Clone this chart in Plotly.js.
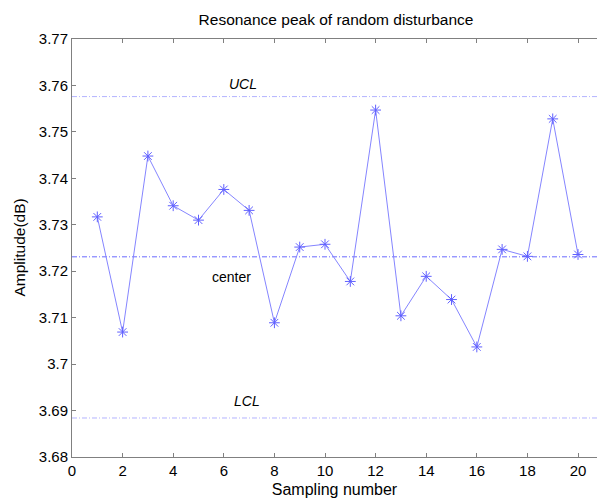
<!DOCTYPE html>
<html>
<head>
<meta charset="utf-8">
<script src="https://cdn.plot.ly/plotly-3.0.1.min.js"></script>
<style>html,body{margin:0;padding:0;background:#fff;}#chart{width:597px;height:499px;}</style>
</head>
<body>
<div id="chart"></div>
<script>
const samples = [1,2,3,4,5,6,7,8,9,10,11,12,13,14,15,16,17,18,19,20];
const amplitude = [3.7317,3.7069,3.7448,3.7341,3.7310,3.7376,3.7331,3.7089,3.7252,3.7258,
                   3.7178,3.7547,3.7104,3.7189,3.7139,3.7037,3.7247,3.7232,3.7528,3.7236];
const limitNames = ['UCL','center','LCL'];
const limitValues = [3.7576, 3.7231, 3.6884];
const limitLabelX = [6.75, 6.3, 6.9];
const limitLabelY = [3.7603, 3.7187, 3.6920];
const xRange = [0, 20.75];
const yRange = [3.68, 3.77];
const xTicks = [0,2,4,6,8,10,12,14,16,18,20];
const yTicks = [3.68,3.69,3.7,3.71,3.72,3.73,3.74,3.75,3.76,3.77];
const yTickText = ['3.68','3.69','3.7','3.71','3.72','3.73','3.74','3.75','3.76','3.77'];

const font = 'Liberation Sans, Arial, sans-serif';
const limitColors = ['#b4b4ff','#6a6aff','#b4b4ff'];

const traces = limitValues.map((v,i)=>({
  x: xRange, y: [v, v], mode: 'lines', type: 'scatter',
  line: {color: limitColors[i], width: 1, dash: '5px,2px,1px,2px'},
  hoverinfo: 'skip', showlegend: false
}));
traces.push({
  x: samples, y: amplitude, mode: 'lines+markers', type: 'scatter',
  line: {color: '#8585ff', width: 1},
  marker: {symbol: 'asterisk-open', size: 9, color: '#6060ff', line: {color: '#7070ff', width: 1}},
  showlegend: false
});

const annotations = limitNames.map((n,i)=>({
  x: limitLabelX[i], y: limitLabelY[i], xref: 'x', yref: 'y', text: n, showarrow: false,
  font: {family: font, size: 14, color: '#000', style: n === 'center' ? 'normal' : 'italic'}
}));
annotations.push({
  xref: 'paper', yref: 'paper', x: 0, y: 0.5, xshift: -64, text: 'Amplitude(dB)', textangle: -90,
  showarrow: false, font: {family: font, size: 15.5, color: '#000'}
});

const layout = {
  width: 597, height: 499,
  margin: {l: 72, r: 0, t: 39, b: 42},
  paper_bgcolor: '#fff', plot_bgcolor: '#fff',
  showlegend: false,
  title: {text: 'Resonance peak of random disturbance', font: {family: font, size: 15.5, color: '#000'},
          xref: 'container', x: 336/597, xanchor: 'center', yref: 'container', y: 1 - 20/499, yanchor: 'middle'},
  xaxis: {
    range: xRange, tickvals: xTicks, ticktext: xTicks.map(String), showgrid: false, zeroline: false,
    showline: true, linecolor: '#808080', linewidth: 1, mirror: 'ticks', ticks: 'inside', ticklen: 4, tickcolor: '#808080',
    tickfont: {family: font, size: 15, color: '#000'},
    title: {text: 'Sampling number', font: {family: font, size: 16, color: '#000'}, standoff: 5}
  },
  yaxis: {
    range: yRange, tickvals: yTicks, ticktext: yTickText, showgrid: false, zeroline: false,
    showline: true, linecolor: '#808080', linewidth: 1, ticks: 'inside', ticklen: 4, tickcolor: '#808080',
    tickfont: {family: font, size: 15, color: '#000'}
  },
  annotations: annotations
};
Plotly.newPlot('chart', traces, layout, {displayModeBar: false, staticPlot: true});
</script>
</body>
</html>
